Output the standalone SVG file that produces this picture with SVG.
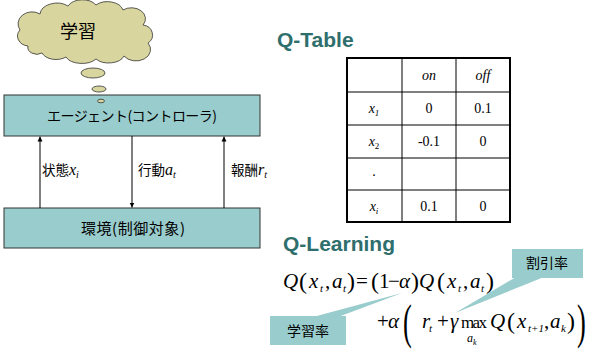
<svg xmlns="http://www.w3.org/2000/svg" width="593" height="353" viewBox="0 0 593 353">
<defs>
<style>
.box{fill:#99cccc;stroke:#333;stroke-width:1}
.jp{font-family:"Noto Sans CJK JP","Liberation Sans",sans-serif;fill:#000}
.ttl{font-family:"Liberation Sans",Arial,sans-serif;font-weight:bold;font-size:21px;fill:#2e6e6c}
.m{font-family:"Liberation Serif","Times New Roman",serif;font-size:21px;fill:#000}
.mi{font-family:"Liberation Serif","Times New Roman",serif;font-size:21px;font-style:italic;fill:#000}
.p{font-size:24px}
.bp{font-size:48px}
.sb{font-family:"Liberation Serif","Times New Roman",serif;font-size:11px;font-style:italic;fill:#000}
.t{font-family:"Liberation Serif","Times New Roman",serif;font-size:14px;fill:#000;text-anchor:middle}
.ti{font-style:italic}
.cl{fill:#99cccc}
.bub{fill:#d9d59e;stroke:#333;stroke-width:0.8}
.conn{stroke:#000;stroke-width:1;fill:none}
</style>
<marker id="ah" viewBox="0 0 10 10" refX="10" refY="5" markerWidth="5" markerHeight="6" orient="auto" markerUnits="userSpaceOnUse">
<path d="M0,0 L10,5 L0,10 Z" fill="#000"/>
</marker>
</defs>
<rect width="593" height="353" fill="#fff"/>

<g id="cloud">
<path class="bub" d="M28,46 A12,10 0 0 1 20,30 A14,12 0 0 1 40,14 A17,12 0 0 1 68,6 A16,11 0 0 1 96,5 A16,11 0 0 1 123,10 A14,11 0 0 1 143,25 A11,10 0 0 1 148,43 A14,11 0 0 1 124,56 A16,10 0 0 1 96,59 A17,10 0 0 1 66,57 A15,10 0 0 1 42,53 A9,7 0 0 1 28,46 Z"/>
<text class="jp" x="78" y="38" font-size="18" text-anchor="middle">学習</text>
<ellipse class="bub" cx="93" cy="73" rx="12" ry="5"/>
<ellipse class="bub" cx="99" cy="89" rx="7" ry="3"/>
</g>

<g id="agent">
<rect class="box" x="4" y="95" width="256" height="41"/>
<ellipse class="bub" cx="101" cy="101" rx="3.5" ry="1.8"/>
<text class="jp" x="132" y="121" font-size="14" text-anchor="middle" textLength="170">エージェント(コントローラ)</text>
</g>

<g id="env">
<rect class="box" x="4" y="208" width="256" height="40"/>
<text class="jp" x="133" y="234" font-size="15" text-anchor="middle" textLength="104">環境(制御対象)</text>
</g>

<g id="connectors">
<line class="conn" x1="40" y1="208" x2="40" y2="136.5" marker-end="url(#ah)"/>
<line class="conn" x1="132" y1="136" x2="132" y2="207.5" marker-end="url(#ah)"/>
<line class="conn" x1="224" y1="208" x2="224" y2="136.5" marker-end="url(#ah)"/>
</g>

<g id="labels">
<text x="42" y="175"><tspan class="jp" font-size="13.5">状態</tspan><tspan font-family="Liberation Serif,serif" font-style="italic" font-size="16">x</tspan><tspan font-family="Liberation Serif,serif" font-style="italic" font-size="10" dy="3">i</tspan></text>
<text x="138" y="175"><tspan class="jp" font-size="13.5">行動</tspan><tspan font-family="Liberation Serif,serif" font-style="italic" font-size="16">a</tspan><tspan font-family="Liberation Serif,serif" font-style="italic" font-size="10" dy="3">t</tspan></text>
<text x="231" y="175"><tspan class="jp" font-size="13.5">報酬</tspan><tspan font-family="Liberation Serif,serif" font-style="italic" font-size="16">r</tspan><tspan font-family="Liberation Serif,serif" font-style="italic" font-size="10" dy="3">t</tspan></text>
</g>

<g id="qtable">
<text class="ttl" x="277" y="47">Q-Table</text>
<g stroke="#000" stroke-width="1" fill="none">
<line x1="402" y1="58" x2="402" y2="222"/>
<line x1="456" y1="58" x2="456" y2="222"/>
<line x1="347" y1="92" x2="510" y2="92"/>
<line x1="347" y1="125" x2="510" y2="125"/>
<line x1="347" y1="158" x2="510" y2="158"/>
<line x1="347" y1="190" x2="510" y2="190"/>
<rect x="347" y="58" width="163" height="164" stroke-width="2"/>
</g>
<text class="t ti" x="429" y="80">on</text>
<text class="t ti" x="483" y="80">off</text>
<text class="t" x="374" y="113"><tspan class="ti">x</tspan><tspan class="ti" font-size="9" dy="3">1</tspan></text>
<text class="t" x="429" y="113">0</text>
<text class="t" x="483" y="113">0.1</text>
<text class="t" x="374" y="146"><tspan class="ti">x</tspan><tspan font-size="9" dy="3">2</tspan></text>
<text class="t" x="429" y="146">-0.1</text>
<text class="t" x="483" y="146">0</text>
<text class="t" x="374" y="176">.</text>
<text class="t" x="374" y="211"><tspan class="ti">x</tspan><tspan class="ti" font-size="9" dy="3">i</tspan></text>
<text class="t" x="429" y="211">0.1</text>
<text class="t" x="483" y="211">0</text>
</g>

<g id="qlearning">
<text class="ttl" x="283" y="251">Q-Learning</text>
<text class="mi" x="283" y="288">Q</text>
<text class="m p" x="299" y="289">(</text>
<text class="mi" x="309" y="288">x</text>
<text class="sb" x="320" y="292">t</text>
<text class="m" x="325" y="288">,</text>
<text class="mi" x="332" y="288">a</text>
<text class="sb" x="343" y="292">t</text>
<text class="m p" x="347" y="289">)</text>
<text class="m" x="356" y="288">=</text>
<text class="m p" x="371" y="289">(</text>
<text class="m" x="379" y="288">1</text>
<text class="m" x="388" y="288">−</text>
<text class="mi" x="399" y="288">α</text>
<text class="m p" x="411" y="289">)</text>
<text class="mi" x="419" y="288">Q</text>
<text class="m p" x="437" y="289">(</text>
<text class="mi" x="447" y="288">x</text>
<text class="sb" x="458" y="292">t</text>
<text class="m" x="463" y="288">,</text>
<text class="mi" x="470" y="288">a</text>
<text class="sb" x="481" y="292">t</text>
<text class="m p" x="486" y="289">)</text>

<text class="m" x="377" y="328">+</text>
<text class="mi" x="388" y="328">α</text>
<text class="m bp" transform="translate(403,338) scale(0.55,1)">(</text>
<text class="mi" x="422" y="328">r</text>
<text class="sb" x="429" y="332">t</text>
<text class="m" x="437" y="328">+</text>
<text class="mi" x="450" y="328">γ</text>
<text class="m" x="461" y="328" style="font-size:17px" textLength="26">max</text>
<text class="sb" x="467" y="342" style="font-size:12px">a</text>
<text class="sb" x="473" y="345" style="font-size:8px">k</text>
<text class="mi" x="490" y="328">Q</text>
<text class="m p" x="507" y="329">(</text>
<text class="mi" x="517" y="328">x</text>
<text class="sb" x="528" y="332">t+1</text>
<text class="m" x="544" y="328">,</text>
<text class="mi" x="550" y="328">a</text>
<text class="sb" x="561" y="332">k</text>
<text class="m p" x="567" y="329">)</text>
<text class="m bp" transform="translate(577,338) scale(0.55,1)">)</text>
</g>

<g id="callout-learning-rate">
<polygon class="cl" points="313,317 338,317 402,293"/>
<rect class="cl" x="270" y="316" width="76" height="29"/>
<text class="jp" x="308" y="336" font-size="14" text-anchor="middle">学習率</text>
</g>

<g id="callout-discount">
<polygon class="cl" points="516,277 544,277 455,313"/>
<rect class="cl" x="512" y="249" width="71" height="29"/>
<text class="jp" x="547" y="268" font-size="14" text-anchor="middle">割引率</text>
</g>
</svg>
